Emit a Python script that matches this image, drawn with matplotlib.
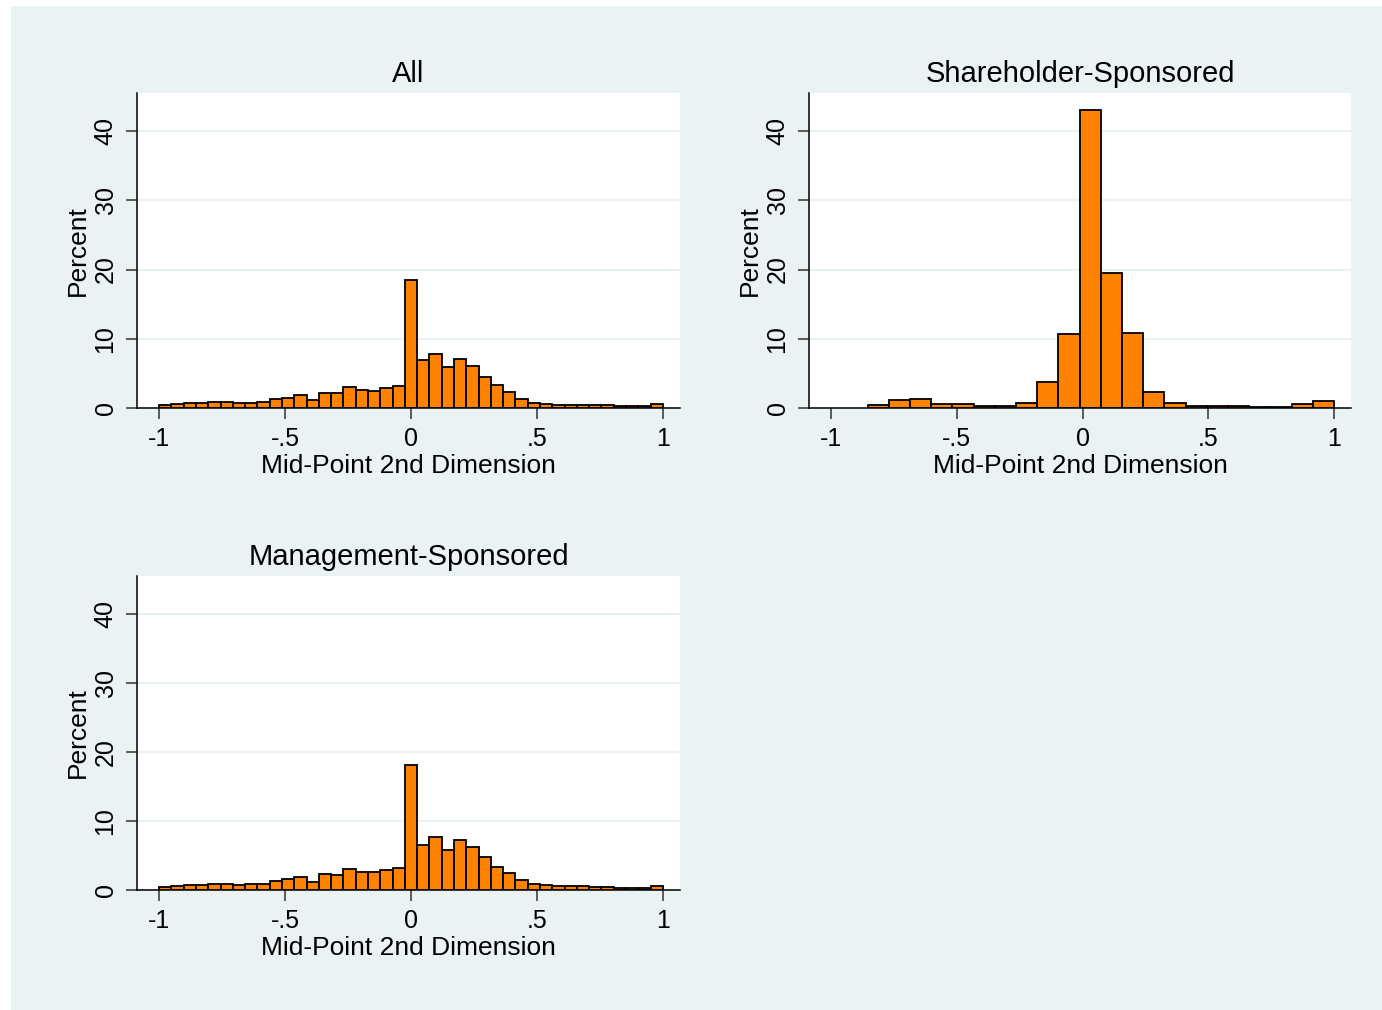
import numpy as np
import matplotlib
matplotlib.use("Agg")
import matplotlib.pyplot as plt
from matplotlib.patches import Rectangle

plt.rcParams['font.family'] = ['Liberation Sans', 'DejaVu Sans']

# ---------------- data ----------------
titles = ["All", "Shareholder-Sponsored", "Management-Sponsored"]
xlabel_text = "Mid-Point 2nd Dimension"
ylabel_text = "Percent"
xtick_vals = [-1, -0.5, 0, 0.5, 1]
xtick_labels = ["-1", "-.5", "0", ".5", "1"]
ytick_vals = [0, 10, 20, 30, 40]
ytick_labels = ["0", "10", "20", "30", "40"]

# bin ranges (lower edge, upper edge) and percent per bin
all_range = (-1.0, 1.0)
all_pct = [0.4, 0.6, 0.75, 0.7, 0.8, 0.9, 0.75, 0.75, 0.8, 1.3,
           1.5, 1.9, 1.15, 2.2, 2.15, 3.0, 2.55, 2.45, 2.9, 3.25,
           18.5, 6.9, 7.8, 5.95, 7.1, 6.1, 4.5, 3.3, 2.25, 1.35,
           0.7, 0.6, 0.5, 0.5, 0.5, 0.45, 0.4, 0.25, 0.25, 0.25, 0.6]

share_range = (-0.855, 1.0)
share_pct = [0.4, 1.15, 1.35, 0.6, 0.6, 0.35, 0.35, 0.7, 3.7, 10.7,
             43.1, 19.5, 10.9, 2.3, 0.7, 0.35, 0.35, 0.35, 0.2, 0.2,
             0.6, 0.95]

mgmt_range = (-1.0, 1.0)
mgmt_pct = [0.45, 0.65, 0.75, 0.7, 0.8, 0.85, 0.75, 0.8, 0.85, 1.3,
            1.55, 1.95, 1.2, 2.25, 2.2, 3.1, 2.65, 2.55, 2.9, 3.15,
            18.1, 6.55, 7.75, 5.75, 7.2, 6.25, 4.75, 3.4, 2.4, 1.4,
            0.8, 0.7, 0.55, 0.55, 0.55, 0.5, 0.45, 0.3, 0.3, 0.3, 0.6]

# ---------------- style ----------------
W, H = 1382, 1010
BG = "#EAF2F3"
BAR = "#FF8200"
fig = plt.figure(figsize=(W / 100, H / 100), dpi=100)
fig.patch.set_facecolor("white")
fig.patches.append(Rectangle((11 / W, 0), 1 - 11 / W, 1 - 6 / H,
                             transform=fig.transFigure, facecolor=BG,
                             edgecolor="none", zorder=-10))

def px_axes(left, top, right, bottom):
    return fig.add_axes([left / W, 1 - bottom / H, (right - left) / W,
                         (bottom - top) / H])

boxes = [(137, 93, 680, 408), (809, 93, 1351, 408), (137, 576, 680, 890)]
datasets = [(all_range, all_pct), (share_range, share_pct),
            (mgmt_range, mgmt_pct)]

for box, title, (rng, pct) in zip(boxes, titles, datasets):
    ax = px_axes(*box)
    ax.set_facecolor("white")
    edges = np.linspace(rng[0], rng[1], len(pct) + 1)
    ax.bar(edges[:-1], pct, width=np.diff(edges), align="edge",
           color=BAR, edgecolor="black", linewidth=1.3, zorder=3)
    ax.set_xlim(-1.088, 1.068)
    ax.set_ylim(0, 45.5)
    ax.set_yticks(ytick_vals)
    ax.set_yticklabels(ytick_labels, rotation=90, va="center")
    ax.set_xticks(xtick_vals)
    ax.set_xticklabels(xtick_labels)
    ax.grid(axis="y", color=BG, linewidth=1.6, zorder=1)
    ax.set_axisbelow(True)
    for s in ["top", "right"]:
        ax.spines[s].set_visible(False)
    for s in ["left", "bottom"]:
        ax.spines[s].set_linewidth(1.1)
        ax.spines[s].set_color("black")
    ax.tick_params(axis="both", length=8, width=1.1, labelsize=18,
                   color="#333333")
    ax.tick_params(axis="x", pad=6)
    ax.tick_params(axis="y", pad=6)
    ax.set_xlabel(xlabel_text, fontsize=19, labelpad=2)
    ax.set_ylabel(ylabel_text, fontsize=19, labelpad=3)
    ax.set_title(title, fontsize=21, pad=8)

fig.savefig("out.png", dpi=100, facecolor=fig.get_facecolor())
